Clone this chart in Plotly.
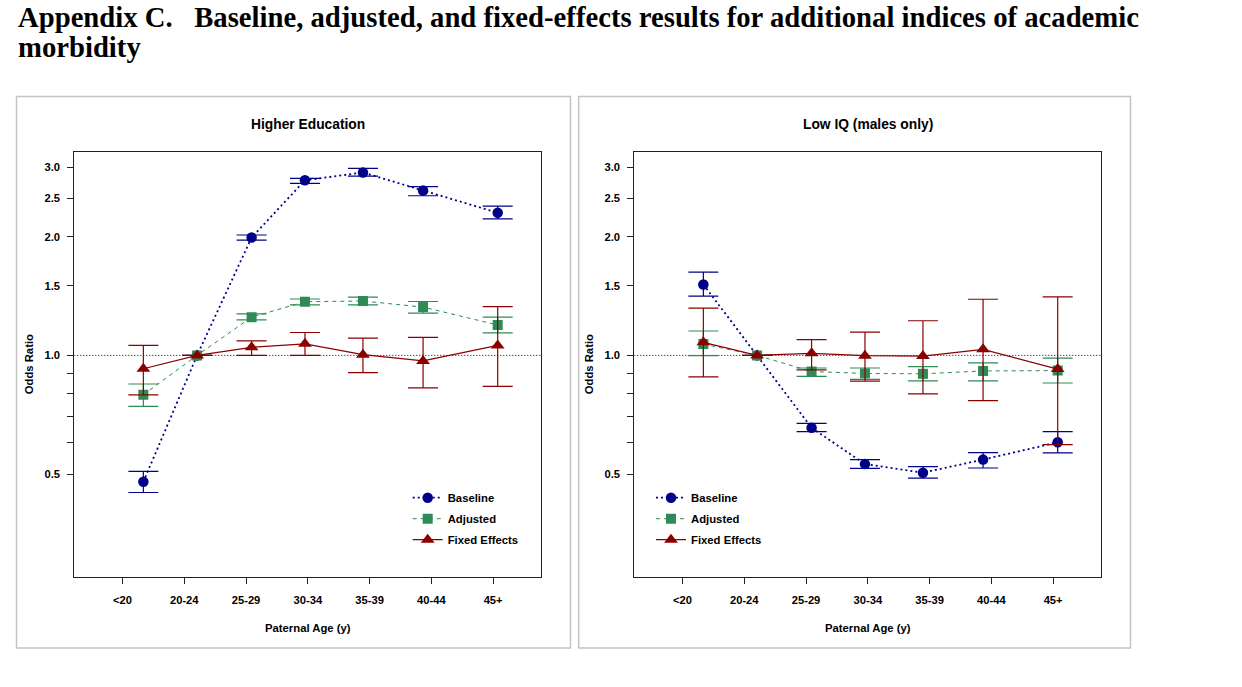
import math
import plotly.graph_objects as go

# ---------------- data ----------------
categories = ["<20", "20-24", "25-29", "30-34", "35-39", "40-44", "45+"]
tick_pos = [1, 2, 3, 4, 5, 6, 7]
# plotted x position of each estimate (in category-tick units)
x_pos = [1.338, 2.208, 3.090, 3.954, 4.893, 5.866, 7.074]

y_tickvals = [0.5, 0.6, 0.7, 0.8, 0.9, 1.0, 1.5, 2.0, 2.5, 3.0]
y_ticktext = ["0.5", "", "", "", "", "1.0", "1.5", "2.0", "2.5", "3.0"]

# Higher Education
he_base = [0.478, 1.0, 1.99, 2.78, 2.91, 2.62, 2.30]
he_base_lo = [0.449, 1.0, 1.96, 2.73, 2.85, 2.54, 2.22]
he_base_hi = [0.508, 1.0, 2.02, 2.81, 2.98, 2.68, 2.39]
he_adj = [0.795, 1.0, 1.25, 1.368, 1.374, 1.326, 1.194]
he_adj_lo = [0.742, 1.0, 1.23, 1.343, 1.343, 1.28, 1.14]
he_adj_hi = [0.846, 1.0, 1.275, 1.39, 1.405, 1.37, 1.25]
he_fe = [0.925, 1.0, 1.048, 1.07, 1.004, 0.968, 1.06]
he_fe_lo = [0.794, 1.0, 1.0, 1.0, 0.904, 0.827, 0.834]
he_fe_hi = [1.06, 1.0, 1.088, 1.143, 1.106, 1.111, 1.329]

# Low IQ (males only)
iq_base = [1.513, 1.0, 0.655, 0.530, 0.504, 0.544, 0.602]
iq_base_lo = [1.414, 1.0, 0.641, 0.517, 0.488, 0.518, 0.566]
iq_base_hi = [1.626, 1.0, 0.672, 0.544, 0.522, 0.567, 0.641]
iq_adj = [1.068, 1.0, 0.910, 0.900, 0.898, 0.913, 0.915]
iq_adj_lo = [0.998, 1.0, 0.885, 0.869, 0.862, 0.862, 0.851]
iq_adj_hi = [1.153, 1.0, 0.929, 0.929, 0.936, 0.957, 0.984]
iq_fe = [1.079, 1.0, 1.012, 0.998, 0.996, 1.036, 0.923]
iq_fe_lo = [0.882, 1.0, 0.919, 0.860, 0.799, 0.768, 0.594]
iq_fe_hi = [1.318, 1.0, 1.097, 1.146, 1.224, 1.388, 1.408]

series_names = ["Baseline", "Adjusted", "Fixed Effects"]
panel_titles = ["Higher Education", "Low IQ (males only)"]
x_title = "Paternal Age (y)"
y_title = "Odds Ratio"
title_line1 = "Appendix C.\u00a0\u00a0\u00a0Baseline, adjusted, and fixed-effects results for additional indices of academic"
title_line2 = "morbidity"

# ---------------- styling ----------------
W, H = 1242, 687
OFF = 0  # page body margin removed via post_script
SANS = "Liberation Sans, Arial, sans-serif"
SERIF = "Liberation Serif, Times New Roman, serif"
colors = ["#00008B", "#2E8B57", "#8B0000"]
symbols = ["circle", "square", "triangle-up"]
msizes = [10.5, 10, 12]
dashes = ["2px,3px", "4px,4px", "solid"]
lwidths = [1.8, 1.0, 1.2]

def px(x):
    return (x - OFF) / W

def py(y):
    return 1 - (y - OFF) / H

panels = [
    dict(x0=74.3, x1=541.3, data=[(he_base, he_base_lo, he_base_hi),
                                  (he_adj, he_adj_lo, he_adj_hi),
                                  (he_fe, he_fe_lo, he_fe_hi)],
         legend="legend", box=(16.5, 570.5)),
    dict(x0=634.3, x1=1101.3, data=[(iq_base, iq_base_lo, iq_base_hi),
                                    (iq_adj, iq_adj_lo, iq_adj_hi),
                                    (iq_fe, iq_fe_lo, iq_fe_hi)],
         legend="legend2", box=(578.7, 1130.5)),
]
plot_top, plot_bot = 151.5, 577.3
xrange = [0.22, 7.78]
yrange = [math.log10(0.3) - 0.04, math.log10(3) + 0.04]

fig = go.Figure()
annotations = []
shapes = []

for i, p in enumerate(panels):
    sfx = "" if i == 0 else str(i + 1)
    xa, ya = "x" + sfx, "y" + sfx
    # reference line at OR = 1
    fig.add_trace(go.Scatter(x=xrange, y=[1, 1], mode="lines", xaxis=xa, yaxis=ya,
                             line=dict(color="black", width=1, dash="1px,2px"),
                             showlegend=False, hoverinfo="skip"))
    for j, (vals, lo, hi) in enumerate(p["data"]):
        plus = [h - v for h, v in zip(hi, vals)]
        minus = [v - l for v, l in zip(vals, lo)]
        fig.add_trace(go.Scatter(
            x=x_pos, y=vals, mode="lines+markers", name=series_names[j],
            xaxis=xa, yaxis=ya, legend=p["legend"], legendgroup=f"g{i}{j}",
            line=dict(color=colors[j], width=lwidths[j], dash=dashes[j]),
            marker=dict(color=colors[j], symbol=symbols[j], size=msizes[j]),
            error_y=dict(type="data", symmetric=False, array=plus, arrayminus=minus,
                         color=colors[j], thickness=1.2, width=15),
        ))
    axis_common = dict(showline=True, mirror=True, linecolor="#222", linewidth=1,
                       ticks="outside", ticklen=6, tickcolor="#222", tickwidth=1,
                       showgrid=False, zeroline=False,
                       tickfont=dict(family=SANS, size=11.2, color="black", weight="bold"))
    fig.update_layout(**{
        "xaxis" + sfx: dict(domain=[px(p["x0"]), px(p["x1"])], range=xrange,
                            tickmode="array", tickvals=tick_pos, ticktext=categories,
                            anchor=ya, ticklabelstandoff=6, **axis_common),
        "yaxis" + sfx: dict(domain=[py(plot_bot), py(plot_top)], type="log", range=yrange,
                            tickmode="array", tickvals=y_tickvals, ticktext=y_ticktext,
                            anchor=xa, ticklabelstandoff=5, **axis_common),
    })
    cx = (p["x0"] + p["x1"]) / 2
    annotations.append(dict(text=panel_titles[i], x=px(cx), y=py(124), xref="paper", yref="paper",
                            showarrow=False, xanchor="center", yanchor="middle",
                            font=dict(family=SANS, size=13.8, color="black", weight="bold")))
    annotations.append(dict(text=x_title, x=px(cx), y=py(628), xref="paper", yref="paper",
                            showarrow=False, xanchor="center", yanchor="middle",
                            font=dict(family=SANS, size=11.3, color="black", weight="bold")))
    annotations.append(dict(text=y_title, x=px(p["x0"] - 45.5), y=py(364.5), xref="paper", yref="paper",
                            showarrow=False, xanchor="center", yanchor="middle", textangle=-90,
                            font=dict(family=SANS, size=11.3, color="black", weight="bold")))
    bx0, bx1 = p["box"]
    shapes.append(dict(type="rect", xref="paper", yref="paper", x0=px(bx0), x1=px(bx1),
                       y0=py(648), y1=py(96.5), line=dict(color="#c4c4c4", width=1.5)))

annotations.append(dict(text="<b>" + title_line1 + "</b>", x=px(17), y=1, xref="paper", yref="paper",
                        showarrow=False, xanchor="left", yanchor="top", borderpad=0,
                        font=dict(family=SERIF, size=28.7, color="black")))
annotations.append(dict(text="<b>" + title_line2 + "</b>", x=px(17), y=py(47), xref="paper", yref="paper",
                        showarrow=False, xanchor="left", yanchor="middle", borderpad=0,
                        font=dict(family=SERIF, size=28.7, color="black")))

legend_common = dict(xanchor="left", yanchor="top", bgcolor="rgba(0,0,0,0)", borderwidth=0,
                     tracegroupgap=2, traceorder="grouped",
                     font=dict(family=SANS, size=11.3, color="black", weight="bold"))
fig.update_layout(
    width=W, height=H, margin=dict(l=0, r=0, t=0, b=0),
    paper_bgcolor="white", plot_bgcolor="white",
    annotations=annotations, shapes=shapes,
    legend=dict(x=px(407.7), y=py(483.2), **legend_common),
    legend2=dict(x=px(651.0), y=py(483.2), **legend_common),
)

fig.write_html("out.html", config={"displayModeBar": False},
               post_script="document.body.style.margin='0px';")
